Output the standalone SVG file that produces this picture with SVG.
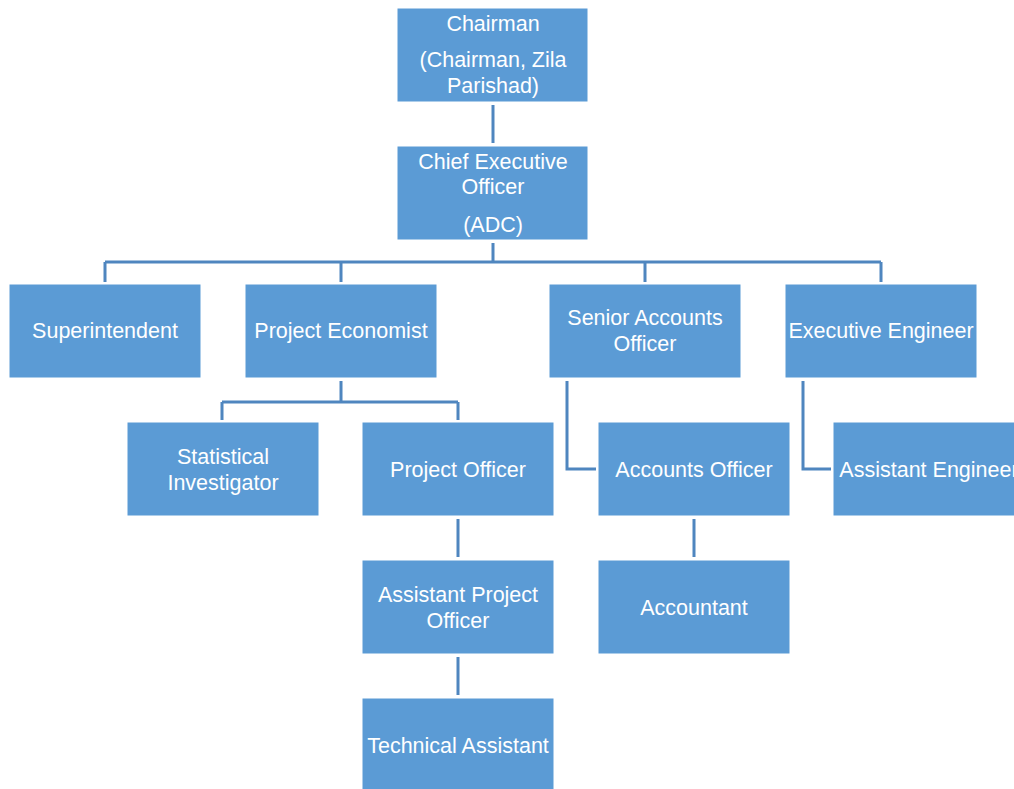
<svg xmlns="http://www.w3.org/2000/svg" width="1014" height="789" viewBox="0 0 1014 789">
<style>
.b{fill:#5b9bd5;stroke:#ffffff;stroke-width:1}
.t{font-family:"Liberation Sans",Arial,sans-serif;font-size:21.5px;fill:#ffffff;text-anchor:middle}
.c{fill:none;stroke:#4f86bf;stroke-width:3}
</style>
<rect width="1014" height="789" fill="#ffffff"/>
<g id="connectors">
<path class="c" d="M493 105V143"/>
<path class="c" d="M493 243V262M105 262H881M105 262V282M341 262V282M645 262V282M881 262V282"/>
<path class="c" d="M341 381V402M222 402H458M222 402V420M458 402V420"/>
<path class="c" d="M567 381V469H596"/>
<path class="c" d="M803 381V469H831"/>
<path class="c" d="M458 519V557M458 657V695M694 519V557"/>
</g>
<g id="chairman"><rect class="b" x="397" y="8" width="191" height="94"/><text class="t" x="493" y="31">Chairman</text><text class="t" x="493" y="67">(Chairman, Zila</text><text class="t" x="493" y="93">Parishad)</text></g>
<g id="ceo"><rect class="b" x="397" y="146" width="191" height="94"/><text class="t" x="493" y="169">Chief Executive</text><text class="t" x="493" y="194">Officer</text><text class="t" x="493" y="232">(ADC)</text></g>
<g id="superintendent"><rect class="b" x="9" y="284" width="192" height="94"/><text class="t" x="105" y="338">Superintendent</text></g>
<g id="project-economist"><rect class="b" x="245" y="284" width="192" height="94"/><text class="t" x="341" y="338">Project Economist</text></g>
<g id="senior-accounts-officer"><rect class="b" x="549" y="284" width="192" height="94"/><text class="t" x="645" y="325">Senior Accounts</text><text class="t" x="645" y="351">Officer</text></g>
<g id="executive-engineer"><rect class="b" x="785" y="284" width="192" height="94"/><text class="t" x="881" y="338">Executive Engineer</text></g>
<g id="statistical-investigator"><rect class="b" x="127" y="422" width="192" height="94"/><text class="t" x="223" y="464">Statistical</text><text class="t" x="223" y="490">Investigator</text></g>
<g id="project-officer"><rect class="b" x="362" y="422" width="192" height="94"/><text class="t" x="458" y="477">Project Officer</text></g>
<g id="accounts-officer"><rect class="b" x="598" y="422" width="192" height="94"/><text class="t" x="694" y="477">Accounts Officer</text></g>
<g id="assistant-engineer"><rect class="b" x="833" y="422" width="192" height="94"/><text class="t" x="929" y="477">Assistant Engineer</text></g>
<g id="assistant-project-officer"><rect class="b" x="362" y="560" width="192" height="94"/><text class="t" x="458" y="602">Assistant Project</text><text class="t" x="458" y="628">Officer</text></g>
<g id="accountant"><rect class="b" x="598" y="560" width="192" height="94"/><text class="t" x="694" y="615">Accountant</text></g>
<g id="technical-assistant"><rect class="b" x="362" y="698" width="192" height="94"/><text class="t" x="458" y="753">Technical Assistant</text></g>
</svg>
